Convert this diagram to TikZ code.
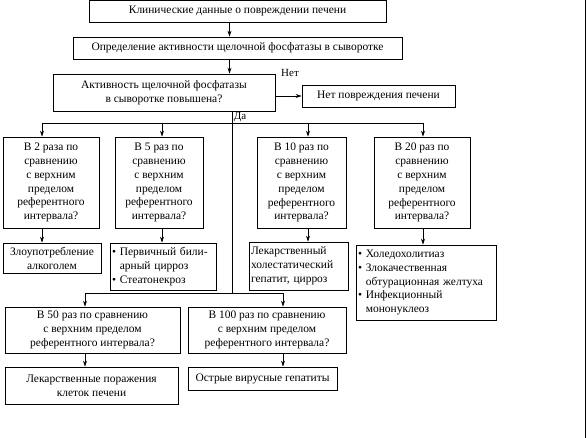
\documentclass[tikz,border=0pt]{standalone}
\usepackage{fontspec}
\setmainfont{Liberation Serif}
\usetikzlibrary{arrows.meta,positioning,calc}

\begin{document}
\begin{tikzpicture}[x=1bp,y=-1bp,
    box/.style={draw,line width=0.7pt,inner sep=2pt,align=center,
                font=\fontsize{11.5}{14}\selectfont},
    lbox/.style={box,align=left},
    arr/.style={-{Stealth[length=6pt,width=4pt]},line width=0.7pt},
    ln/.style={line width=0.7pt},
    tag/.style={font=\fontsize{11}{13}\selectfont,inner sep=1pt}]

  \useasboundingbox (0,0) rectangle (587,438);

  % top of the chart
  \node[box,minimum width=297bp,minimum height=22bp] (clin) at (237.5,11)
    {Клинические данные о повреждении печени};
  \node[box,minimum width=329bp,minimum height=22bp] (alp) at (237.5,48)
    {Определение активности щелочной фосфатазы в сыворотке};
  \node[box,minimum width=222bp,minimum height=37bp] (q) at (164,92.5)
    {Активность щелочной фосфатазы\\в сыворотке повышена?};
  \node[box,minimum width=153bp,minimum height=22bp] (no) at (378.5,96)
    {Нет повреждения печени};

  \coordinate (c1) at ([xshift=-8bp]clin.south);
  \coordinate (c2) at ([xshift=-8bp]alp.south);
  \draw[arr] (c1) -- (c1 |- alp.north);
  \draw[arr] (c2) -- (c2 |- q.north);
  \draw[arr] (q.east |- no.west) -- (no.west);
  \node[tag] at (290,73) {Нет};

  % branch points
  \coordinate (trunk) at (232,123);
  \coordinate (b2)  at (42,123);
  \coordinate (b5)  at (162,123);
  \coordinate (b10) at (308,123);
  \coordinate (b20) at (423,123);
  \coordinate (low) at (232,293);
  \coordinate (lowL) at (85,293);
  \coordinate (lowR) at (283,293);

  \draw[ln] (q.south -| trunk) -- (low);
  \draw[ln] (b2) -- (b20);
  \draw[ln] (lowL) -- (lowR);
  \node[tag] at (240,117) {Да};

  % ratio questions
  \foreach \n/\x/\w/\k in {r2/51/96bp/{В 2 раза по},r5/159/88bp/{В 5 раз по},
                           r10/301.5/89bp/{В 10 раз по},r20/422/96bp/{В 20 раз по}}{
    \node[box,minimum width=\w,minimum height=91bp] (\n) at (\x,182.5)
      {\k\\сравнению\\с верхним\\пределом\\референтного\\интервала?};
  }
  \node[box,minimum width=175bp,minimum height=46bp] (r50) at (92.5,330)
    {В 50 раз по сравнению\\с верхним пределом\\референтного интервала?};
  \node[box,minimum width=158bp,minimum height=46bp] (r100) at (267,330)
    {В 100 раз по сравнению\\с верхним пределом\\референтного интервала?};

  % diagnoses
  \node[box,minimum width=98bp,minimum height=30bp] (alc) at (52,258)
    {Злоупотребление\\алкоголем};
  \node[lbox,text width=102bp,minimum height=47bp] (pbc) at (163,266.5)
    {\textbullet\ Первичный били-\\\phantom{\textbullet\ }арный цирроз\\\textbullet\ Стеатонекроз};
  \node[lbox,text width=95bp,minimum height=48bp] (drug) at (298.5,266)
    {Лекарственный\\холестатический\\гепатит, цирроз};
  \node[lbox,text width=136bp,minimum height=75bp] (chol) at (426,282.5)
    {\textbullet\ Холедохолитиаз\\\textbullet\ Злокачественная\\\phantom{\textbullet\ }обтурационная желтуха\\
     \textbullet\ Инфекционный\\\phantom{\textbullet\ }мононуклеоз};
  \node[box,minimum width=173bp,minimum height=37bp] (dl) at (91.5,385.5)
    {Лекарственные поражения\\клеток печени};
  \node[box,minimum width=149bp,minimum height=23bp] (av) at (262.5,378.5)
    {Острые вирусные гепатиты};

  % arrows down
  \draw[arr] (b2) -- (b2 |- r2.north);
  \draw[arr] (b5) -- (b5 |- r5.north);
  \draw[arr] (b10) -- (b10 |- r10.north);
  \draw[arr] (b20) -- (b20 |- r20.north);
  \draw[arr] (b2 |- r2.south) -- (b2 |- alc.north);
  \draw[arr] (b5 |- r5.south) -- (b5 |- pbc.north);
  \draw[arr] (b10 |- r10.south) -- (b10 |- drug.north);
  \draw[arr] (b20 |- r20.south) -- (b20 |- chol.north);
  \draw[arr] (lowL) -- (lowL |- r50.north);
  \draw[arr] (lowR) -- (lowR |- r100.north);
  \draw[arr] (lowL |- r50.south) -- (lowL |- dl.north);
  \draw[arr] (lowR |- r100.south) -- (lowR |- av.north);

  % page edge
  \draw[ln] (585,0) -- (585,438);

\end{tikzpicture}
\end{document}
